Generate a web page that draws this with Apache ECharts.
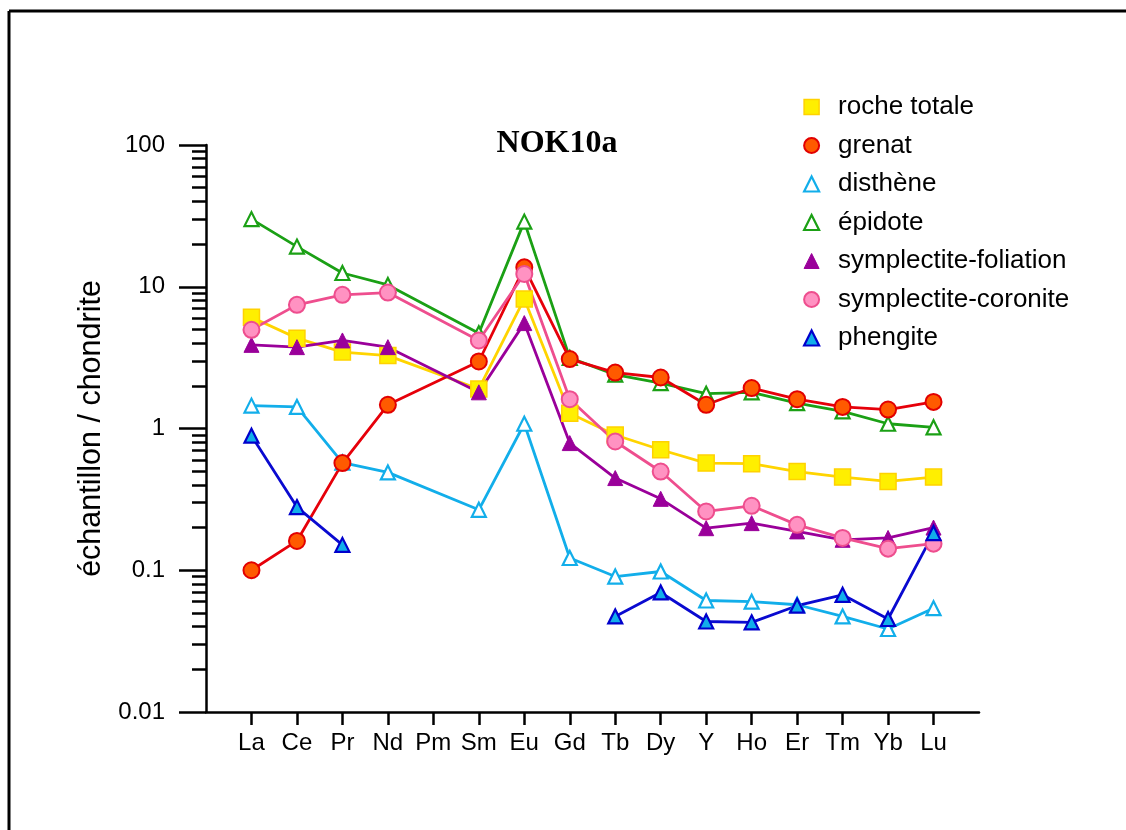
<!DOCTYPE html>
<html>
<head>
<meta charset="utf-8">
<script src="https://cdn.jsdelivr.net/npm/echarts@6/dist/echarts.min.js"></script>
<style>
html,body{margin:0;padding:0;background:#fff;}
#chart{width:1126px;height:830px;}
</style>
</head>
<body>
<div id="chart"></div>
<script>
// ---- data ----
const categories = ['La','Ce','Pr','Nd','Pm','Sm','Eu','Gd','Tb','Dy','Y','Ho','Er','Tm','Yb','Lu'];
const rocheTotale = [6.1, 4.34, 3.46, 3.27, null, 1.90, 8.2, 1.28, 0.90, 0.708, 0.570, 0.565, 0.497, 0.454, 0.423, 0.454];
const grenat = [0.1, 0.161, 0.570, 1.47, null, 2.97, 13.7, 3.09, 2.48, 2.29, 1.47, 1.93, 1.61, 1.42, 1.36, 1.54];
const disthene = [1.45, 1.42, 0.575, 0.49, null, 0.267, 1.08, 0.122, 0.0903, 0.098, 0.0612, 0.060, 0.0571, 0.0472, 0.0385, 0.054];
const epidote = [30.0, 19.2, 12.5, 10.3, null, 4.7, 28.8, 3.15, 2.4, 2.09, 1.76, 1.8, 1.51, 1.32, 1.08, 1.02];
const symplectiteFoliation = [3.89, 3.75, 4.18, 3.75, null, 1.80, 5.54, 0.789, 0.447, 0.319, 0.198, 0.215, 0.188, 0.164, 0.169, 0.200];
const symplectiteCoronite = [4.97, 7.45, 8.77, 9.1, null, 4.18, 12.3, 1.61, 0.81, 0.497, 0.260, 0.285, 0.209, 0.169, 0.142, 0.154];
const phengite = [0.89, 0.279, 0.151, null, null, null, null, null, 0.0472, 0.0697, 0.0435, 0.0429, 0.0562, 0.0671, 0.0453, 0.183];
const yMajorTicks = [0.01, 0.1, 1, 10, 100];
const yTickLabels = ['0.01', '0.1', '1', '10', '100'];
const yMinorTicks = [0.02,0.03,0.04,0.05,0.06,0.07,0.08,0.09, 0.2,0.3,0.4,0.5,0.6,0.7,0.8,0.9, 2,3,4,5,6,7,8,9, 20,30,40,50,60,70,80,90];
const titleText = 'NOK10a';
const yAxisName = 'échantillon / chondrite';

// ---- chart ----
const FONT = "'Liberation Sans', Arial, Helvetica, sans-serif";
const xIdx = categories.map((c, i) => i);
function pairs(arr) { return arr.map((v, i) => [i, v]); }

const styles = {
  'roche totale': {symbol: 'rect', size: 16, fill: '#FFEF00', border: '#FFD200', bw: 1.5, line: '#FFD400'},
  'grenat': {symbol: 'circle', size: 16, fill: '#FF5A00', border: '#E20000', bw: 2, line: '#E6000A'},
  'disthène': {symbol: 'triangle', size: 14, fill: '#FFFFFF', border: '#12AEEA', bw: 2.2, line: '#12AEEA'},
  'épidote': {symbol: 'triangle', size: 14, fill: '#FFFFFF', border: '#1BA015', bw: 2.2, line: '#1BA015'},
  'symplectite-foliation': {symbol: 'triangle', size: 15, fill: '#9A009A', border: '#9A009A', bw: 1, line: '#9A009A'},
  'symplectite-coronite': {symbol: 'circle', size: 16, fill: '#FF92C2', border: '#EE4E8E', bw: 2, line: '#EE4E8E'},
  'phengite': {symbol: 'triangle', size: 14, fill: '#12AEEA', border: '#0000CC', bw: 2.2, line: '#0A0AD0'}
};
const seriesData = {
  'roche totale': rocheTotale,
  'grenat': grenat,
  'disthène': disthene,
  'épidote': epidote,
  'symplectite-foliation': symplectiteFoliation,
  'symplectite-coronite': symplectiteCoronite,
  'phengite': phengite
};
const legendOrder = ['roche totale','grenat','disthène','épidote','symplectite-foliation','symplectite-coronite','phengite'];
const drawOrder = ['épidote','disthène','roche totale','grenat','symplectite-foliation','symplectite-coronite','phengite'];

const series = drawOrder.map(name => {
  const s = styles[name];
  return {
    name: name,
    type: 'line',
    xAxisIndex: 0,
    yAxisIndex: 0,
    data: pairs(seriesData[name]),
    connectNulls: name !== 'phengite',
    symbol: s.symbol,
    symbolSize: s.size,
    showAllSymbol: true,
    lineStyle: {color: s.line, width: 2.8},
    itemStyle: {color: s.fill, borderColor: s.border, borderWidth: s.bw},
    emphasis: {disabled: true},
    animation: false,
    z: 3
  };
});

const chart = echarts.init(document.getElementById('chart'), null, {renderer: 'canvas'});
chart.setOption({
  backgroundColor: '#fff',
  animation: false,
  textStyle: {fontFamily: FONT},
  grid: {left: 206, right: 147, top: 145, bottom: 118, containLabel: false},
  legend: {
    orient: 'vertical',
    left: 798,
    top: 89,
    itemWidth: 15,
    itemHeight: 15,
    itemGap: 12.5,
    selectedMode: false,
    textStyle: {fontSize: 26, color: '#000', fontFamily: FONT, padding: [0, 0, 0, 14]},
    data: legendOrder.map(name => ({
      name: name,
      icon: styles[name].symbol,
      itemStyle: {color: styles[name].fill, borderColor: styles[name].border, borderWidth: styles[name].bw}
    }))
  },
  xAxis: {
    type: 'value',
    min: -1,
    max: 16,
    interval: 1,
    splitLine: {show: false},
    axisLine: {show: true, onZero: false, lineStyle: {color: '#000', width: 2.5}},
    axisTick: {show: true, inside: false, length: 13, customValues: xIdx, lineStyle: {color: '#000', width: 2.5}},
    axisLabel: {show: true, margin: 19, fontSize: 24, color: '#000', fontFamily: FONT,
      customValues: xIdx,
      formatter: v => categories[Math.round(v)] || ''}
  },
  yAxis: [{
    type: 'log',
    logBase: 10,
    min: 0.01,
    max: 100,
    name: yAxisName,
    nameLocation: 'middle',
    nameGap: 87,
    nameTextStyle: {fontSize: 30.5, color: '#000', fontFamily: FONT},
    splitLine: {show: false},
    axisLine: {show: true, onZero: false, lineStyle: {color: '#000', width: 2.5}},
    axisTick: {show: true, inside: false, length: 27, customValues: yMajorTicks, lineStyle: {color: '#000', width: 2.5}},
    axisLabel: {show: true, margin: 41, fontSize: 24, color: '#000', fontFamily: FONT,
      customValues: yMajorTicks,
      formatter: v => {
        const i = yMajorTicks.findIndex(t => Math.abs(Math.log10(t) - Math.log10(v)) < 1e-6);
        return i >= 0 ? yTickLabels[i] : '';
      }}
  }, {
    type: 'log',
    logBase: 10,
    min: 0.01,
    max: 100,
    position: 'left',
    splitLine: {show: false},
    axisLine: {show: false, onZero: false},
    axisTick: {show: true, inside: false, length: 14, customValues: yMinorTicks, lineStyle: {color: '#000', width: 2.5}},
    axisLabel: {show: false}
  }],
  graphic: [
    {type: 'line', shape: {x1: 9, y1: 11, x2: 9, y2: 830}, style: {stroke: '#000', lineWidth: 3}},
    {type: 'line', shape: {x1: 9, y1: 11, x2: 1126, y2: 11}, style: {stroke: '#000', lineWidth: 3}},
    {type: 'text', x: 557, y: 144, style: {text: titleText, font: "bold 32px 'Liberation Serif', 'Times New Roman', serif", fill: '#000', textAlign: 'center', textVerticalAlign: 'middle'}}
  ],
  series: series
});
</script>
</body>
</html>
